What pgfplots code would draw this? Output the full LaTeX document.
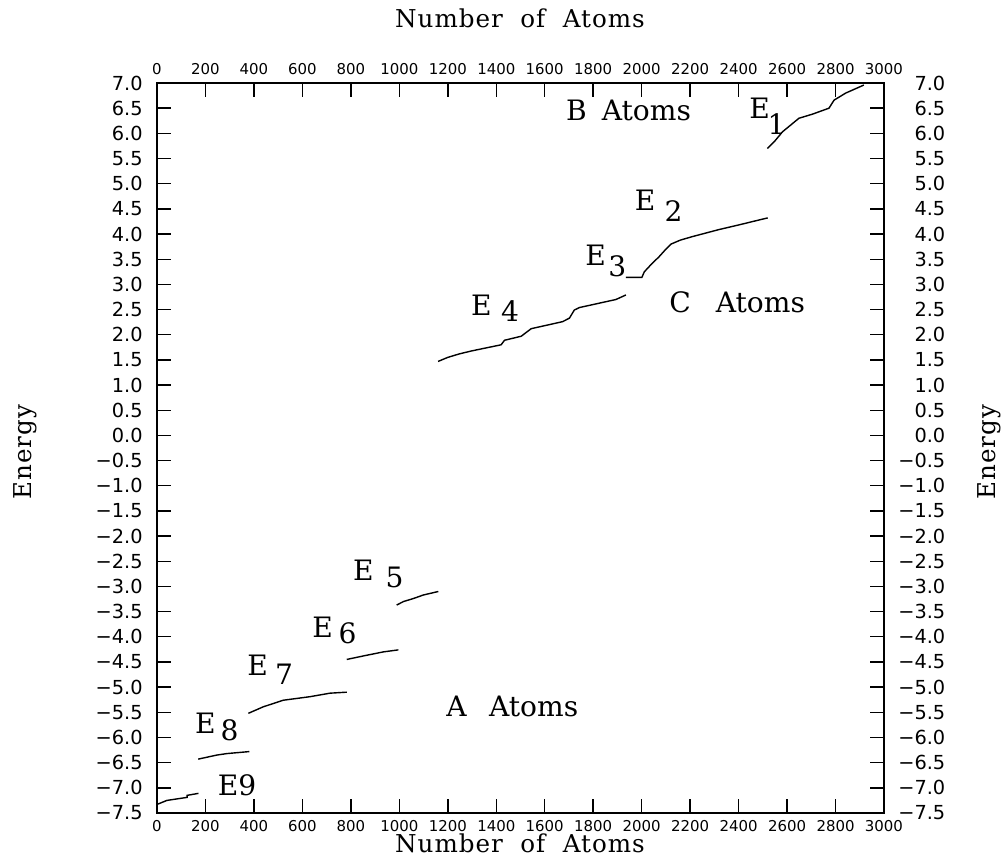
\documentclass[border=0pt]{standalone}
\usepackage{fontspec}
\usepackage{pgfplots}
\pgfplotsset{compat=1.18}
\setmainfont{DejaVu Serif}
\newfontfamily\ticksans{DejaVu Sans}
\newfontfamily\titlefont[LetterSpace=4]{DejaVu Serif}

\pgfplotsset{
  energyframe/.style={
    scale only axis, width=14.54cm, height=14.6cm,
    at={(0,0)}, anchor=south west,
    xmin=0, xmax=3000, ymin=-7.5, ymax=7,
    xtick={0,200,...,3000}, ytick={-7.5,-7,...,7},
    tick align=inside, major tick length=0.28cm,
    axis line style={line width=1pt},
    every tick/.style={black, line width=0.8pt},
    /pgf/number format/assume math mode=true,
    /pgf/number format/1000 sep={},
    xticklabel style={font=\ticksans\fontsize{8.5}{10}\selectfont, inner sep=0pt},
    yticklabel style={font=\ticksans\fontsize{11}{12}\selectfont, inner sep=0pt},
  },
  energy/.style={black, line width=0.8pt, no marks, sharp plot},
}
\tikzset{lab/.style={font=\fontsize{16}{18}\selectfont, inner sep=0pt, anchor=center}}

\begin{document}
\begin{tikzpicture}
% left / bottom labels and the data
\begin{axis}[energyframe,
    xticklabel pos=lower, yticklabel pos=left,
    xtick pos=both, ytick pos=both,
    xticklabel shift=0.14cm, yticklabel shift=0.28cm,
    yticklabels={−7.5,−7.0,−6.5,−6.0,−5.5,−5.0,−4.5,−4.0,−3.5,−3.0,−2.5,−2.0,−1.5,−1.0,−0.5,0.0,0.5,1.0,1.5,2.0,2.5,3.0,3.5,4.0,4.5,5.0,5.5,6.0,6.5,7.0},
    clip=false]

  % E9
  \addplot[energy] coordinates {(0,-7.33)(41,-7.25)(124,-7.19)(124,-7.15)(171,-7.11)};
  % E8
  \addplot[energy] coordinates {(170,-6.43)(246,-6.35)(288,-6.32)(381,-6.28)};
  % E7
  \addplot[energy] coordinates {(377,-5.52)(439,-5.39)(521,-5.26)(631,-5.19)(714,-5.12)(783,-5.10)};
  % E6
  \addplot[energy] coordinates {(783,-4.45)(852,-4.38)(934,-4.30)(996,-4.26)};
  % E5
  \addplot[energy] coordinates {(989,-3.37)(1017,-3.30)(1058,-3.24)(1099,-3.17)(1161,-3.10)};
  % E4
  \addplot[energy] coordinates {(1160,1.47)(1200,1.55)(1248,1.62)(1300,1.68)(1360,1.74)(1420,1.80)(1434,1.89)(1503,1.97)(1544,2.12)(1600,2.18)(1674,2.26)(1702,2.33)(1722,2.49)(1743,2.54)(1800,2.60)(1894,2.70)(1935,2.79)};
  % E3 and E2
  \addplot[energy] coordinates {(1935,3.14)(2001,3.14)(2011,3.25)(2040,3.40)(2072,3.55)(2100,3.70)(2121,3.80)(2160,3.88)(2210,3.95)(2320,4.09)(2400,4.18)(2485,4.28)(2520,4.32)};
  % E1
  \addplot[energy] coordinates {(2519,5.70)(2550,5.85)(2581,6.03)(2649,6.30)(2704,6.38)(2773,6.50)(2794,6.66)(2842,6.80)(2917,6.96)};

  % level labels
  \node[lab] at (axis cs:2487,6.49) {E};
  \node[lab] at (axis cs:2557,6.18) {1};
  \node[lab] at (axis cs:2014,4.68) {E};
  \node[lab] at (axis cs:2132,4.45) {2};
  \node[lab] at (axis cs:1810,3.58) {E};
  \node[lab] at (axis cs:1900,3.36) {3};
  \node[lab] at (axis cs:1339,2.59) {E};
  \node[lab] at (axis cs:1457,2.47) {4};
  \node[lab] at (axis cs:852,-2.67) {E};
  \node[lab] at (axis cs:980,-2.82) {5};
  \node[lab] at (axis cs:683,-3.82) {E};
  \node[lab] at (axis cs:786,-3.92) {6};
  \node[lab] at (axis cs:415,-4.56) {E};
  \node[lab] at (axis cs:524,-4.74) {7};
  \node[lab] at (axis cs:200,-5.71) {E};
  \node[lab] at (axis cs:299,-5.85) {8};
  \node[lab] at (axis cs:330,-6.95) {E9};

  \node[lab] at (axis cs:1946,6.46) {B\hspace{0.3cm}Atoms};
  \node[lab] at (axis cs:2394,2.65) {C\hspace{0.5cm}Atoms};
  \node[lab] at (axis cs:1466,-5.38) {A\hspace{0.45cm}Atoms};
\end{axis}

% right / top labels
\begin{axis}[energyframe,
    xticklabel pos=upper, yticklabel pos=right,
    xtick pos=both, ytick pos=both,
    xticklabel shift=0.16cm, yticklabel shift=0.28cm,
    yticklabels={−7.5,−7.0,−6.5,−6.0,−5.5,−5.0,−4.5,−4.0,−3.5,−3.0,−2.5,−2.0,−1.5,−1.0,−0.5,\hphantom{−}0.0,\hphantom{−}0.5,\hphantom{−}1.0,\hphantom{−}1.5,\hphantom{−}2.0,\hphantom{−}2.5,\hphantom{−}3.0,\hphantom{−}3.5,\hphantom{−}4.0,\hphantom{−}4.5,\hphantom{−}5.0,\hphantom{−}5.5,\hphantom{−}6.0,\hphantom{−}6.5,\hphantom{−}7.0}]
\end{axis}

% axis titles
\node[anchor=base, font=\titlefont\fontsize{14}{16}\selectfont] at (7.26,15.70) {Number\hspace{0.35cm}of\hspace{0.35cm}Atoms};
\node[anchor=base, font=\titlefont\fontsize{14}{16}\selectfont] at (7.26,-0.80) {Number\hspace{0.35cm}of\hspace{0.35cm}Atoms};
\node[anchor=base, rotate=90, font=\titlefont\fontsize{14}{16}\selectfont] at (-2.50,7.22) {Energy};
\node[anchor=base, rotate=90, font=\titlefont\fontsize{14}{16}\selectfont] at (16.76,7.22) {Energy};

\pgfresetboundingbox
\path[use as bounding box] (-3.14,-0.94) rectangle (17.00,16.26);
\end{tikzpicture}
\end{document}
